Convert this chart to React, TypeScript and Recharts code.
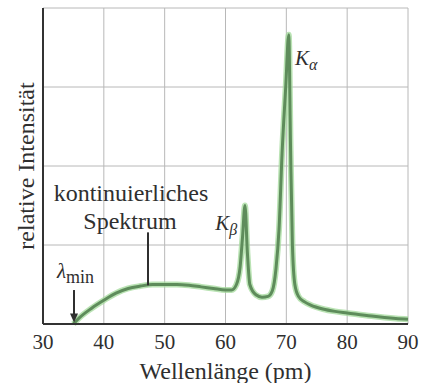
import { CartesianGrid, Line, LineChart, ReferenceDot, ReferenceLine, XAxis, YAxis } from 'recharts'

// Röntgenspektrum: kontinuierlicher Anteil + Kβ / Kα Linien
const wavelength = [
	35, 36, 38, 40, 42, 44, 46, 48, 50, 52, 54, 56, 58, 60, 61, 61.8, 62.4, 62.8, 63.2, 63.6, 64, 65, 66, 67,
	67.7, 68.3, 68.8, 69.3, 69.9, 70.4, 70.7, 71, 71.4, 72, 73, 74, 76, 78, 80, 84, 88, 90,
]
const intensity = [
	0, 0.08, 0.2, 0.3, 0.39, 0.45, 0.48, 0.5, 0.5, 0.5, 0.49, 0.47, 0.45, 0.43, 0.43, 0.5, 0.72, 1.1, 1.5, 0.9,
	0.5, 0.37, 0.34, 0.35, 0.42, 0.7, 1.2, 2.16, 3.0, 3.66, 2.2, 1.0, 0.5, 0.35, 0.28, 0.24, 0.19, 0.16, 0.14,
	0.1, 0.07, 0.06,
]
const xTicks = [30, 40, 50, 60, 70, 80, 90]
const yTicks = [0, 1, 2, 3, 4]

const data = wavelength.map((w, i) => ({ w, v: intensity[i] }))

const serif = 'Liberation Serif, DejaVu Serif, serif'
const ink = '#2f2f2f'

const SubLabel = ({ main, sub, italicSub }: { main: string; sub: string; italicSub?: boolean }) =>
	(props: any) => (
		<text x={props.cx} y={props.cy} style={{ fontFamily: serif }} fill={ink}>
			<tspan fontStyle="italic" fontSize={21}>{main}</tspan>
			<tspan fontSize={italicSub ? 16 : 18} fontStyle={italicSub ? 'italic' : 'normal'} dy={5}>
				{sub}
			</tspan>
		</text>
	)

const CenterText = (txt: string) => (props: any) => (
	<text x={props.cx} y={props.cy} style={{ fontFamily: serif }} fontSize={24} fill={ink} textAnchor="middle">
		{txt}
	</text>
)

const ArrowHead = (props: any) => (
	<path d={`M${props.cx - 4},${props.cy - 9} L${props.cx + 4},${props.cy - 9} L${props.cx},${props.cy} Z`} fill={ink} />
)

export default function App() {
	return (
		<div style={{ position: 'absolute', left: 0, top: 0, fontFamily: serif }}>
			<LineChart width={422} height={383} data={data} margin={{ top: 8, right: 14, bottom: 0, left: 0 }}>
				<CartesianGrid stroke="#b8b8b8" strokeWidth={1} />
				<XAxis
					dataKey="w"
					type="number"
					domain={[30, 90]}
					ticks={xTicks}
					height={59}
					tickLine={false}
					tickMargin={4}
					axisLine={{ stroke: '#333', strokeWidth: 2 }}
					tick={{ fontSize: 21, fill: ink, style: { fontFamily: serif } }}
					label={(p: any) => (
						<text x={p.viewBox.x + p.viewBox.width / 2} y={379} style={{ fontFamily: serif }} fontSize={24} fill={ink} textAnchor="middle">
							Wellenlänge (pm)
						</text>
					)}
				/>
				<YAxis
					type="number"
					domain={[0, 4]}
					ticks={yTicks}
					width={43}
					tick={() => <g />}
					tickLine={false}
					axisLine={{ stroke: '#333', strokeWidth: 2 }}
					label={(p: any) => {
						const cy = p.viewBox.y + p.viewBox.height / 2
						return (
							<text x={34} y={cy} transform={`rotate(-90, 34, ${cy})`} style={{ fontFamily: serif }} fontSize={24} fill={ink} textAnchor="middle">
								relative Intensität
							</text>
						)
					}}
				/>
				<Line dataKey="v" type="monotone" stroke="#a3d99b" strokeOpacity={0.75} strokeWidth={6} dot={false} isAnimationActive={false} />
				<Line dataKey="v" type="monotone" stroke="#5e8c5b" strokeWidth={3} dot={false} isAnimationActive={false} />

				<ReferenceLine segment={[{ x: 47.26, y: 1.16 }, { x: 47.26, y: 0.49 }]} stroke={ink} strokeWidth={2} />
				<ReferenceLine segment={[{ x: 35.1, y: 0.43 }, { x: 35.1, y: 0.1 }]} stroke={ink} strokeWidth={2} />
				<ReferenceDot x={35.1} y={0.02} shape={ArrowHead} />

				<ReferenceDot x={44.47} y={1.56} shape={CenterText('kontinuierliches')} />
				<ReferenceDot x={44.3} y={1.2} shape={CenterText('Spektrum')} />
				<ReferenceDot x={32.3} y={0.58} shape={SubLabel({ main: 'λ', sub: 'min' })} />
				<ReferenceDot x={58.3} y={1.19} shape={SubLabel({ main: 'K', sub: 'β', italicSub: true })} />
				<ReferenceDot x={71.43} y={3.28} shape={SubLabel({ main: 'K', sub: 'α', italicSub: true })} />
			</LineChart>
		</div>
	)
}
